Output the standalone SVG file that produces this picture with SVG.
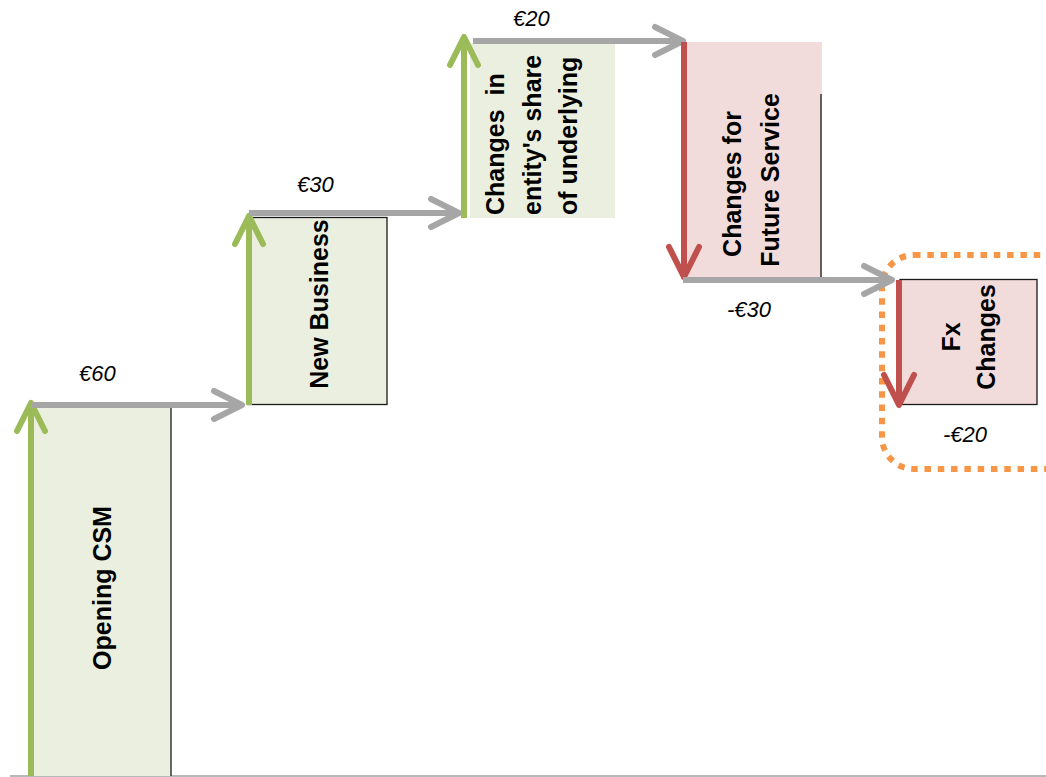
<svg xmlns="http://www.w3.org/2000/svg" width="1046" height="777" viewBox="0 0 1046 777">
<style>
.g{fill:#EBEFDF}
.p{fill:#F2DCDB}
.edge{stroke:#1a1a1a;stroke-width:1.3;fill:none}
.lbl{font-family:"Liberation Sans",Arial,sans-serif;font-weight:bold;font-size:25px;fill:#000}
.val{font-family:"Liberation Sans",Arial,sans-serif;font-style:italic;font-size:22px;fill:#000}
.cg{stroke:#9BBB59;stroke-width:6;fill:none}
.cy{stroke:#A6A6A6;stroke-width:6;fill:none}
.cr{stroke:#C0504D;stroke-width:6;fill:none}
</style>
<defs>
<marker id="mg" markerUnits="userSpaceOnUse" viewBox="-36 -20 40 40" markerWidth="40" markerHeight="40" refX="0" refY="0" orient="auto">
<path d="M-28,-14 L0,0 L-28,14" stroke="#9BBB59" stroke-width="6" fill="none" stroke-linecap="round" stroke-linejoin="round"/>
</marker>
<marker id="my" markerUnits="userSpaceOnUse" viewBox="-36 -20 40 40" markerWidth="40" markerHeight="40" refX="0" refY="0" orient="auto">
<path d="M-28,-14 L0,0 L-28,14" stroke="#A6A6A6" stroke-width="6" fill="none" stroke-linecap="round" stroke-linejoin="round"/>
</marker>
<marker id="mr" markerUnits="userSpaceOnUse" viewBox="-36 -20 40 40" markerWidth="40" markerHeight="40" refX="0" refY="0" orient="auto">
<path d="M-30,-15 L0,0 L-30,15" stroke="#C0504D" stroke-width="6" fill="none" stroke-linecap="round" stroke-linejoin="round"/>
</marker>
</defs>
<rect width="1046" height="777" fill="#fff"/>
<line x1="10" y1="776" x2="1046" y2="776" stroke="#A0A0A0" stroke-width="1.5"/>

<g id="opening-csm">
<rect class="g" x="31" y="405" width="140" height="371"/>
<line class="edge" x1="171" y1="408" x2="171" y2="776"/>
<text class="lbl" text-anchor="middle" transform="translate(111,588) rotate(-90)">Opening CSM</text>
</g>

<g id="new-business">
<rect class="g edge" x="248" y="217.5" width="139" height="187" style="fill:#EBEFDF"/>
<text class="lbl" text-anchor="middle" transform="translate(328,304) rotate(-90)">New Business</text>
</g>

<g id="changes-entity-share">
<rect class="g" x="470" y="43" width="145" height="175"/>
<text class="lbl" xml:space="preserve" transform="translate(504,215) rotate(-90)">Changes  in</text>
<text class="lbl" transform="translate(541,215) rotate(-90)">entity's share</text>
<text class="lbl" transform="translate(577,215) rotate(-90)">of underlying</text>
</g>

<g id="changes-future-service">
<rect class="p" x="681" y="42" width="141" height="238"/>
<line class="edge" x1="821" y1="94" x2="821" y2="278"/>
<text class="lbl" text-anchor="middle" transform="translate(741,184) rotate(-90)">Changes for</text>
<text class="lbl" text-anchor="middle" transform="translate(779,180) rotate(-90)">Future Service</text>
</g>

<g id="fx-changes">
<rect class="p edge" x="900" y="279.5" width="137" height="125" style="fill:#F2DCDB"/>
<text class="lbl" text-anchor="middle" transform="translate(960,337) rotate(-90)">Fx</text>
<text class="lbl" text-anchor="middle" transform="translate(995,337) rotate(-90)">Changes</text>
<rect x="882" y="255" width="200" height="214" rx="32" ry="32" fill="none" stroke="#F79646" stroke-width="6" stroke-dasharray="6.5 6.8"/>
</g>

<g id="connectors">
<line class="cg" x1="31" y1="776" x2="31" y2="403" marker-end="url(#mg)"/>
<line class="cy" x1="31" y1="405" x2="242" y2="405" marker-end="url(#my)"/>
<line class="cg" x1="249" y1="405" x2="249" y2="216" marker-end="url(#mg)"/>
<line class="cy" x1="249" y1="213" x2="459" y2="213" marker-end="url(#my)"/>
<line class="cg" x1="464" y1="218" x2="464" y2="37" marker-end="url(#mg)"/>
<line class="cy" x1="473" y1="41" x2="683" y2="41" marker-end="url(#my)"/>
<line class="cr" x1="684" y1="42" x2="684" y2="277" marker-end="url(#mr)"/>
<line class="cy" x1="683" y1="280" x2="892" y2="280" marker-end="url(#my)"/>
<line class="cr" x1="899" y1="280" x2="899" y2="405" marker-end="url(#mr)"/>
</g>

<g id="values">
<text class="val" x="79" y="381">€60</text>
<text class="val" x="297" y="192">€30</text>
<text class="val" x="513" y="26">€20</text>
<text class="val" x="727" y="317">-€30</text>
<text class="val" x="943" y="442">-€20</text>
</g>
</svg>
